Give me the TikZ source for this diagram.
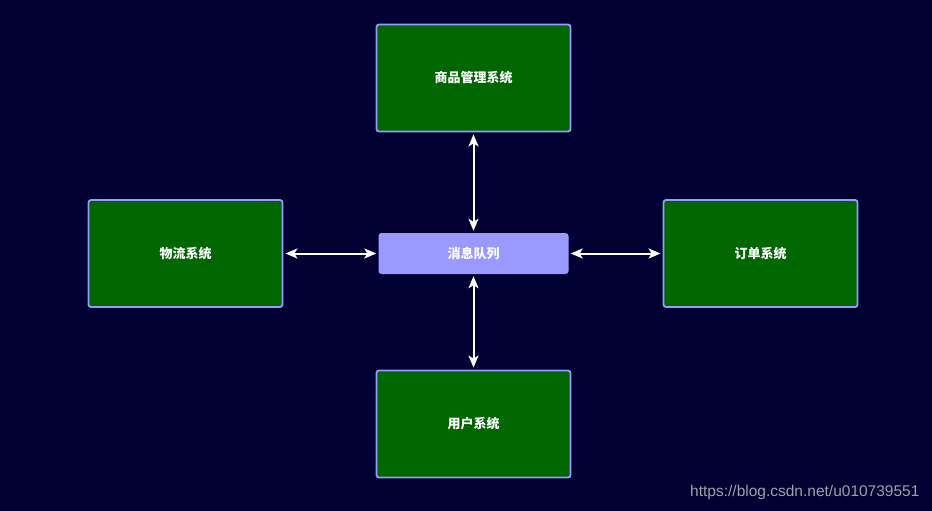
\documentclass[tikz,border=0pt]{standalone}
\usepackage{fontspec}
\newfontfamily\cjk{Noto Sans CJK SC}
\setmainfont{Liberation Sans}
\usetikzlibrary{arrows.meta}
\definecolor{bgblue}{HTML}{000033}
\definecolor{sysgreen}{HTML}{006600}
\definecolor{sysborder}{HTML}{9999FF}
\definecolor{mqfill}{HTML}{9999FF}
\definecolor{markgray}{HTML}{A0A0A8}
\tikzset{
  sysbox/.style={draw=sysborder, fill=sysgreen, line width=1.8pt, rounded corners=2.5pt,
    minimum width=194pt, minimum height=107pt, text=white, font=\cjk\bfseries\fontsize{13}{15}\selectfont},
  mqbox/.style={fill=mqfill, rounded corners=3pt, minimum width=190pt, minimum height=41pt,
    text=white, font=\cjk\bfseries\fontsize{13}{15}\selectfont},
  link/.style={white, line width=2pt, {Stealth[length=12pt,width=10pt,inset=3pt]}-{Stealth[length=12pt,width=10pt,inset=3pt]}, shorten >=2pt, shorten <=2pt}
}
\begin{document}
\begin{tikzpicture}[x=1pt, y=-1pt]
      % Background
      \fill[bgblue] (0,0) rectangle (932,511);
      \useasboundingbox (0,0) rectangle (932,511);

      % Draw the systems
      \node[sysbox] (goods) at (473.5,78) {商品管理系统};
      \node[sysbox] (logistics) at (185.5,253.5) {物流系统};
      \node[sysbox] (order) at (760.5,253.5) {订单系统};
      \node[sysbox] (user) at (473.5,424) {用户系统};
      \node[mqbox] (mq) at (473.5,253.5) {消息队列};

      % Draw the links
      \draw[link] (mq.north) -- (goods.south);
      \draw[link] (mq.south) -- (user.north);
      \draw[link] (mq.west) -- (logistics.east);
      \draw[link] (mq.east) -- (order.west);

      % Watermark
      \node[anchor=east, text=markgray, font=\fontsize{15.5}{18}\selectfont] (mark) at (923,492) {https://blog.csdn.net/u010739551};
    \end{tikzpicture}
\end{document}
